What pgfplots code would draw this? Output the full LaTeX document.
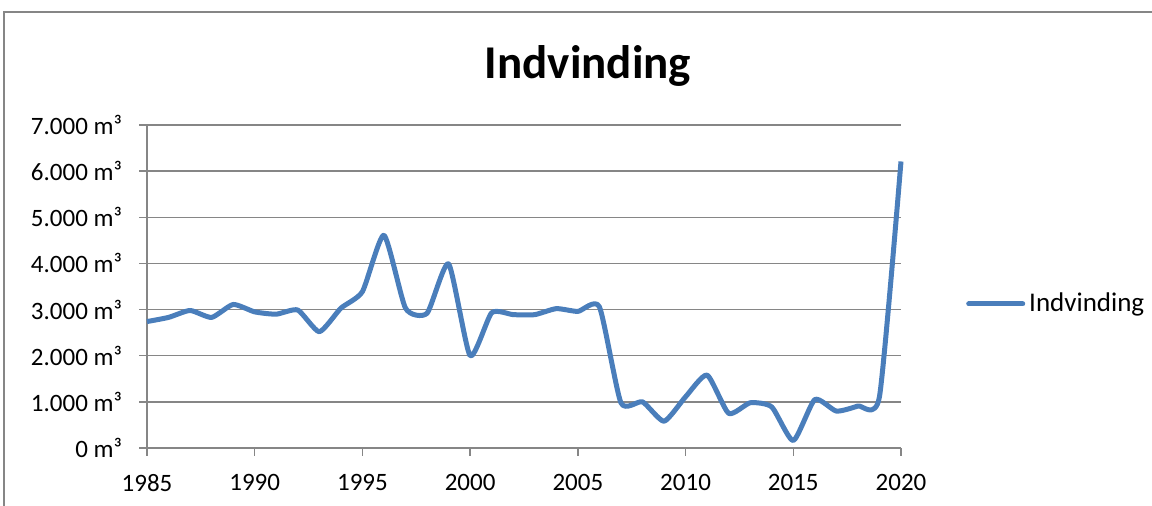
\documentclass[border=0pt]{standalone}
\usepackage{fontspec}
\setmainfont{Carlito}
\usepackage{pgfplots}
\pgfplotsset{compat=1.18}
\definecolor{xlblue}{HTML}{4A7EBB}
\definecolor{xlgrid}{HTML}{868686}
\begin{document}
\begin{tikzpicture}
% page = 1152x506 px at 0.5pt per px, origin at the axis' lower left corner
\useasboundingbox (-73.5pt,-29pt) rectangle (502.5pt,224pt);
\draw[xlgrid, line width=0.8pt] (-71.5pt,-40pt) -- (-71.5pt,218pt) -- (520pt,218pt);
\begin{axis}[
    at={(0pt,0pt)}, anchor=south west,
    scale only axis,
    width=377pt, height=161.5pt,
    xmin=1985, xmax=2020,
    ymin=0, ymax=7000,
    clip=false,
    axis x line=bottom, axis y line=left,
    axis line style={xlgrid, line width=0.75pt, -},
    xtick={1985,1990,...,2020},
    xticklabels={1985,1990,1995,2000,2005,2010,2015,2020},
    ytick={0,1000,...,7000},
    yticklabels={0 m³,1.000 m³,2.000 m³,3.000 m³,4.000 m³,5.000 m³,6.000 m³,7.000 m³},
    tick align=outside,
    major tick length=4pt,
    tick style={xlgrid, line width=0.75pt},
    ymajorgrids,
    grid style={xlgrid, line width=0.75pt},
    ticklabel style={font=\fontsize{12.5}{15}\selectfont, text=black},
    xticklabel style={yshift=-5.5pt},
    yticklabel style={xshift=-5pt},
    legend style={at={(1.086,0.446)}, anchor=west, draw=none, fill=none,
        inner sep=0pt, font=\fontsize{13.5}{16}\selectfont},
    legend cell align=left,
    legend image code/.code={\draw[xlblue, line width=2.5pt, line cap=round] (0pt,0pt) -- (27pt,0pt);},
]

% Indvinding per year
\addplot[xlblue, line width=2.5pt, smooth, tension=0.35, line join=round] coordinates {
    (1985,2740) (1986,2830) (1987,2980) (1988,2830) (1989,3110)
    (1990,2950) (1991,2900) (1992,2990) (1993,2520) (1994,3030)
    (1995,3390) (1996,4610) (1997,3030) (1998,2920) (1999,3990)
    (2000,2000) (2001,2930) (2002,2890) (2003,2890) (2004,3020)
    (2005,2960) (2006,3060) (2007,980) (2008,1000) (2009,580)
    (2010,1110) (2011,1580) (2012,750) (2013,980) (2014,890)
    (2015,160) (2016,1050) (2017,800) (2018,910) (2019,1110)
    (2020,6210)
};
\addlegendentry{Indvinding}

\end{axis}
\node[anchor=base, font=\fontsize{23.5}{28}\selectfont\bfseries] at (220.5pt,184.5pt) {Indvinding};
\end{tikzpicture}
\end{document}
